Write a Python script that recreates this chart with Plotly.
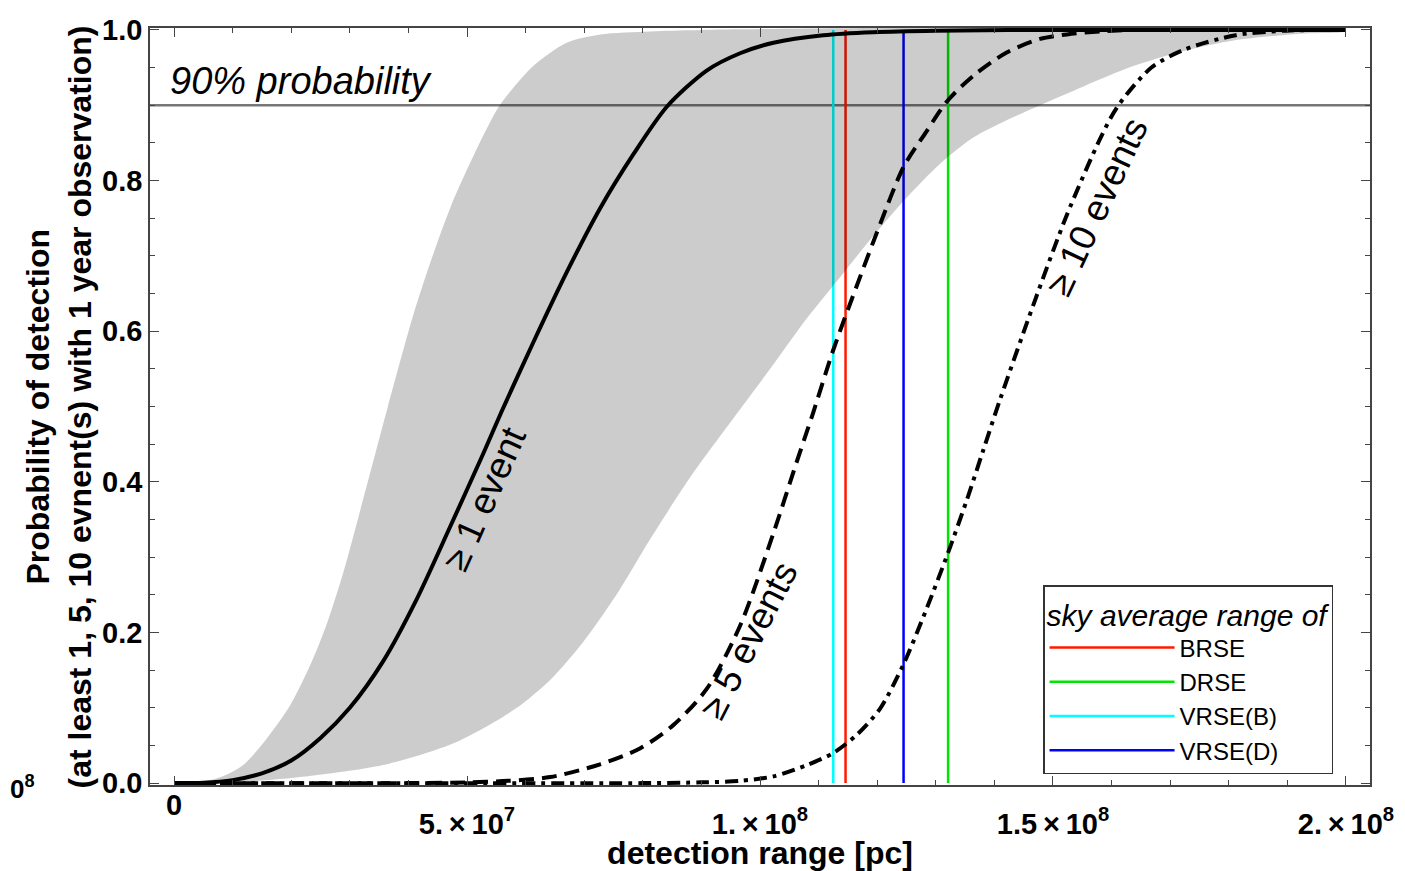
import plotly.graph_objects as go

# ---------------- data (x in units of 1e6 pc) ----------------
x_one = [0, 5, 10, 15, 20, 25, 30, 35.7, 41.4, 47.1, 52.8, 56.0, 61.3, 67.0,
         72.7, 78.4, 84.1, 90.9, 96.6, 102.3, 110.8, 119.3, 130, 150, 200]
p_one = [0, 0.0005, 0.004, 0.013, 0.030, 0.060, 0.100, 0.162, 0.244, 0.340, 0.438,
         0.495, 0.585, 0.678, 0.763, 0.835, 0.898, 0.946, 0.969, 0.983, 0.993, 0.997,
         0.999, 1.0, 1.0]

x_five = [0, 40, 50, 57, 64.2, 72.7, 79.5, 85.2, 90.9, 96.6, 102.3, 106.2, 109.0,
          112.5, 116.5, 120.5, 124.5, 128.4, 131.9, 136.4, 142.1, 147.8, 152.4, 158,
          165, 200]
p_five = [0, 0.0, 0.001, 0.003, 0.008, 0.025, 0.046, 0.077, 0.125, 0.209, 0.332,
          0.425, 0.490, 0.575, 0.660, 0.742, 0.818, 0.865, 0.905, 0.939, 0.970, 0.988,
          0.994, 0.998, 1.0, 1.0]

x_ten = [0, 80, 90, 96.6, 102.3, 108.0, 112.5, 116.5, 120.5, 124.5, 128.4, 132.1,
         135.3, 138.1, 141.0, 146.7, 152.4, 158.2, 161.0, 166.8, 172.5, 181.2, 189.8, 200]
p_ten = [0, 0.0, 0.001, 0.003, 0.009, 0.024, 0.040, 0.064, 0.099, 0.158, 0.231, 0.306,
         0.376, 0.442, 0.510, 0.636, 0.755, 0.858, 0.898, 0.950, 0.974, 0.993, 0.999, 1.0]

band_upper_x = [0, 4, 8, 11.8, 15.8, 19.8, 23.2, 26.1, 28.9, 31.7, 34.6, 36.5, 41.4,
                47.1, 52.8, 55.6, 61.3, 67.0, 72.7, 81.2, 90, 200]
band_upper_p = [0, 0.001, 0.008, 0.024, 0.059, 0.103, 0.156, 0.212, 0.280, 0.360, 0.445,
                0.500, 0.636, 0.763, 0.860, 0.900, 0.952, 0.983, 0.994, 0.998, 1.0, 1.0]

band_lower_x = [0, 10, 20.4, 35.7, 47.1, 52.8, 58.5, 64.2, 69.8, 75.5, 81.2, 88, 96,
                102.3, 108, 113.7, 119.3, 125, 130.7, 136.4, 142.1, 147.8, 155.2, 163.7,
                172.3, 180.8, 192.2, 200]
band_lower_p = [0, 0.001, 0.007, 0.024, 0.051, 0.073, 0.100, 0.137, 0.187, 0.250, 0.323,
                0.405, 0.490, 0.556, 0.617, 0.672, 0.726, 0.777, 0.822, 0.857, 0.880,
                0.900, 0.925, 0.952, 0.972, 0.986, 0.995, 0.998]

range_names = ["BRSE", "DRSE", "VRSE(B)", "VRSE(D)"]
range_values = [114.6, 132.1, 112.5, 124.5]
range_colors = ["#ff1a00", "#00e600", "#00ffff", "#0000ff"]

threshold = 0.9
scale = 1e6

x_tickvals = [0, 5e7, 1e8, 1.5e8, 2e8]
x_ticktext = ["", "5.\u2009\u00d7\u200910<sup>7</sup>", "1.\u2009\u00d7\u200910<sup>8</sup>",
              "1.5\u2009\u00d7\u200910<sup>8</sup>", "2.\u2009\u00d7\u200910<sup>8</sup>"]
zero_label = "0"
y_tickvals = [0, 0.2, 0.4, 0.6, 0.8, 1.0]

def sc(xs):
    return [v * scale for v in xs]

FONT = "Liberation Sans, Arial, Helvetica, sans-serif"

fig = go.Figure()

# vertical range lines (below the translucent band)
for name, v, c in zip(range_names, range_values, range_colors):
    fig.add_trace(go.Scatter(x=[v * scale, v * scale], y=[0, 1], mode="lines",
                             line=dict(color=c, width=2.5), name=name))

# grey band
poly_x = sc(band_upper_x) + sc(band_lower_x)[::-1]
poly_y = band_upper_p + band_lower_p[::-1]
fig.add_trace(go.Scatter(x=poly_x, y=poly_y, mode="lines", fill="toself",
                         fillcolor="rgba(0,0,0,0.2)",
                         line=dict(width=0, shape="spline", smoothing=0.8),
                         showlegend=False, hoverinfo="skip"))

# probability curves
fig.add_trace(go.Scatter(x=sc(x_one), y=p_one, mode="lines", showlegend=False,
                         line=dict(color="black", width=4, shape="spline", smoothing=0.8)))
fig.add_trace(go.Scatter(x=sc(x_five), y=p_five, mode="lines", showlegend=False,
                         line=dict(color="black", width=4, dash="15px,8px",
                                   shape="spline", smoothing=0.8)))
fig.add_trace(go.Scatter(x=sc(x_ten), y=p_ten, mode="lines", showlegend=False,
                         line=dict(color="black", width=4, dash="13px,6px,4px,6px",
                                   shape="spline", smoothing=0.8)))

# 90% line
fig.add_shape(type="line", xref="paper", x0=0, x1=1, yref="y", y0=threshold, y1=threshold,
              line=dict(color="#777777", width=2.5), layer="below")

annots = [
    dict(x=-1.0e6, y=0.932, xref="x", yref="y", text="90% probability", showarrow=False,
         xanchor="left", yanchor="middle",
         font=dict(family=FONT, size=38, color="black", style="italic")),
    dict(x=53.0e6, y=0.378, xref="x", yref="y", text="\u2265 1 event", showarrow=False,
         textangle=-66, font=dict(family=FONT, size=37, color="black")),
    dict(x=98.0e6, y=0.190, xref="x", yref="y", text="\u2265 5 events", showarrow=False,
         textangle=-63, font=dict(family=FONT, size=37, color="black")),
    dict(x=157.5e6, y=0.766, xref="x", yref="y", text="\u2265 10 events", showarrow=False,
         textangle=-65, font=dict(family=FONT, size=37, color="black")),
    dict(x=-0.0926, y=0.5, xref="paper", yref="paper", text="<b>Probability of detection</b>",
         showarrow=False, textangle=-90, xanchor="center", yanchor="middle",
         font=dict(family=FONT, size=32, color="black")),
    dict(x=-0.0574, y=0.5, xref="paper", yref="paper",
         text="<b>(at least 1, 5, 10 evnent(s) with 1 year observation)</b>",
         showarrow=False, textangle=-90, xanchor="center", yanchor="middle",
         font=dict(family=FONT, size=32, color="black")),
    dict(x=-0.1164, y=-0.003, xref="paper", yref="paper", text="<b>0<sup>8</sup></b>",
         showarrow=False, xanchor="left", yanchor="middle",
         font=dict(family=FONT, size=26, color="black")),
    dict(x=0, y=-0.027, xref="x", yref="paper", text="<b>%s</b>" % zero_label,
         showarrow=False, xanchor="center", yanchor="middle",
         font=dict(family=FONT, size=29, color="black")),
]

axis_common = dict(showline=True, linecolor="#444444", linewidth=1.5, mirror="allticks",
                   ticks="inside", ticklen=9, tickwidth=1.2, tickcolor="#444444",
                   showgrid=False, zeroline=False, automargin=False,
                   tickfont=dict(family=FONT, size=29, color="black", weight="bold"))

# page body has an 8px margin: figure offset by 8px inside the 1405x871 window
fig.update_layout(
    width=1397, height=863, autosize=False,
    margin=dict(l=142, r=35, t=20, b=86),
    plot_bgcolor="white", paper_bgcolor="white",
    xaxis=dict(range=[-4.1e6, 204.1e6], tickmode="array", tickvals=x_tickvals,
               ticktext=x_ticktext, ticklabelstandoff=12,
               minor=dict(tickmode="linear", tick0=0, dtick=1e7, ticks="inside",
                          ticklen=5, tickcolor="#444444", tickwidth=1),
               title=dict(text="<b>detection range [pc]</b>", standoff=10,
                          font=dict(family=FONT, size=32, color="black")),
               **axis_common),
    yaxis=dict(range=[-0.0025, 1.0025], tickmode="array", tickvals=y_tickvals,
               ticktext=["%.1f" % v for v in y_tickvals],
               minor=dict(tickmode="linear", tick0=0, dtick=0.05, ticks="inside",
                          ticklen=5, tickcolor="#444444", tickwidth=1),
               **axis_common),
    legend=dict(x=0.732, y=0.2642, xanchor="left", yanchor="top",
                bgcolor="white", bordercolor="#333333", borderwidth=1.5,
                font=dict(family=FONT, size=24, color="black"),
                title=dict(text="sky average range of",
                           font=dict(family=FONT, size=30, color="black", style="italic")),
                itemwidth=125, tracegroupgap=0),
    annotations=annots,
)

fig.write_html("out.html")
